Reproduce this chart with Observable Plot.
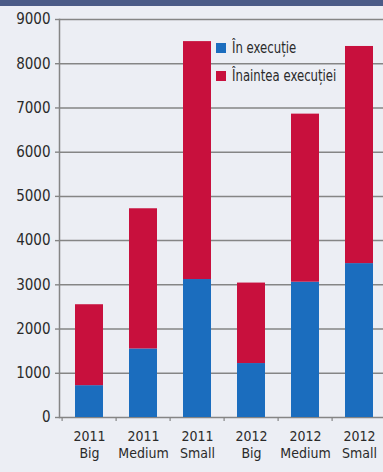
<!DOCTYPE html>
<html>
<head>
<meta charset="utf-8">
<script src="https://cdn.jsdelivr.net/npm/d3@7"></script>
<script src="https://cdn.jsdelivr.net/npm/@observablehq/plot@0.6"></script>
<style>
  html, body { margin: 0; padding: 0; background: #eceef4; }
  #wrap { position: relative; width: 383px; height: 472px; overflow: hidden; font-family: "DejaVu Sans Condensed", "DejaVu Sans", sans-serif; }
  #band { position: absolute; left: 0; top: 0; width: 383px; height: 6px; background: #4b5b87; }
  #legend { position: absolute; left: 216px; top: 34px; font-size: 14px; color: #2a2a2a; line-height: 28px; }
  #legend .sw { display: inline-block; width: 10px; height: 10px; margin-right: 6px; vertical-align: 0px; }
  #legend .tx { display: inline-block; transform: scale(0.93, 1.08); transform-origin: left center; }
  #chart { position: absolute; left: 0; top: 0; }
</style>
</head>
<body>
<div id="wrap">
  <div id="chart"></div>
  <div id="band"></div>
  <div id="legend"></div>
</div>
<script>
const categories = ["2011 Big", "2011 Medium", "2011 Small", "2012 Big", "2012 Medium", "2012 Small"];
const seriesNames = ["În execuție", "Înaintea execuției"];
const inExecution = [720, 1550, 3120, 1220, 3060, 3480];
const totals = [2550, 4720, 8500, 3040, 6860, 8390];
const beforeExecution = totals.map((t, i) => t - inExecution[i]);
const colors = ["#1b6dbe", "#c8103d"];
const yTicks = [0, 1000, 2000, 3000, 4000, 5000, 6000, 7000, 8000, 9000];

const rows = [];
categories.forEach((c, i) => {
  rows.push({cat: c, series: seriesNames[0], value: inExecution[i]});
  rows.push({cat: c, series: seriesNames[1], value: beforeExecution[i]});
});

const chart = Plot.plot({
  width: 383,
  height: 472,
  marginLeft: 59,
  marginRight: 0,
  marginTop: 19,
  marginBottom: 55,
  style: {background: "transparent", fontFamily: "'DejaVu Sans Condensed', 'DejaVu Sans', sans-serif", fontSize: "14px", color: "#2a2a2a"},
  x: {domain: categories, range: [59, 388], paddingInner: 0.49, paddingOuter: 0.245, label: null, axis: null},
  y: {domain: [0, 9000], label: null, axis: null},
  color: {domain: seriesNames, range: colors},
  marks: [
    Plot.gridY(yTicks, {stroke: "#858585", strokeOpacity: 1, strokeWidth: 1.5}),
    Plot.barY(rows, {x: "cat", y: "value", fill: "series", order: seriesNames}),
    Plot.axisY(yTicks, {tickSize: 4, tickPadding: 5, stroke: "#858585", strokeWidth: 1.4, fill: "#2a2a2a", fontSize: 15, tickFormat: d => String(d)}),
    Plot.axisX(categories, {tickSize: 0, tickPadding: 12, fill: "#2a2a2a", fontSize: 14, lineHeight: 1.2, tickFormat: d => d.replace(" ", "\n")}),
    Plot.ruleX(categories, {x: d => d, dx: -27.4, y1: 0, y2: 0, insetBottom: -4, stroke: "#858585", strokeWidth: 1.2}),
    Plot.frame({anchor: "left", stroke: "#858585", strokeWidth: 1.5})
  ]
});
document.getElementById("chart").appendChild(chart);

const legend = document.getElementById("legend");
seriesNames.forEach((s, i) => {
  const row = document.createElement("div");
  const sw = document.createElement("span");
  sw.className = "sw";
  sw.style.background = colors[i];
  const tx = document.createElement("span");
  tx.className = "tx";
  tx.textContent = s;
  row.appendChild(sw);
  row.appendChild(tx);
  legend.appendChild(row);
});
</script>
</body>
</html>
